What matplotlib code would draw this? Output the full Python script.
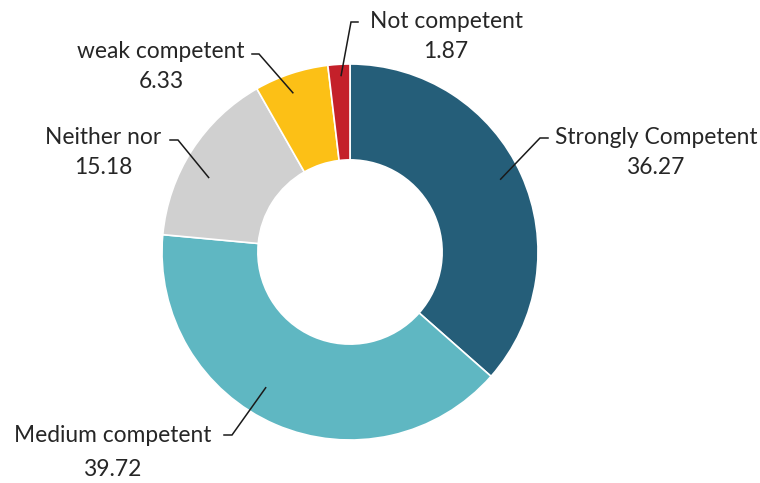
import numpy as np
import matplotlib
matplotlib.use("Agg")
import matplotlib.pyplot as plt

categories = ["Strongly Competent", "Medium competent", "Neither nor", "weak competent", "Not competent"]
values = [36.27, 39.72, 15.18, 6.33, 1.87]
value_labels = ["36.27", "39.72", "15.18", "6.33", "1.87"]
colors = ["#255E79", "#5FB7C2", "#D0D0D0", "#FCC016", "#C4202A"]

W, H = 760, 483
plt.rcParams["font.family"] = ["Lato", "DejaVu Sans"]

fig = plt.figure(figsize=(W / 100, H / 100), dpi=100)
ax = fig.add_axes([0, 0, 1, 1])

cx, cy, R = 350, H - 252, 188
wedges, _ = ax.pie(values, colors=colors, startangle=90, counterclock=False,
                   center=(cx, cy), radius=R,
                   wedgeprops=dict(width=R * 0.51, edgecolor="white", linewidth=1.2))
ax.set_xlim(0, W)
ax.set_ylim(0, H)
ax.set_aspect("equal")
ax.axis("off")

# label layout (pixels from top-left): elbow point, end of horizontal tick, text centre, line gap
layout = [
    dict(elbow=(540, 138), end=(548, 138), text=(656, 137), gap=30, r=0.89, dang=1.5),
    dict(elbow=(232, 435), end=(224, 435), text=(113, 436), gap=34, r=0.85, dang=-8.5),
    dict(elbow=(178, 140), end=(170, 140), text=(103, 138), gap=29, r=0.85, dang=5),
    dict(elbow=(259, 54), end=(252, 54), text=(161, 51), gap=30, r=0.90, dang=1.5),
    dict(elbow=(351, 22), end=(358, 22), text=(446, 21), gap=31, r=0.94, dang=-0.5),
]

for w, name, vl, lay in zip(wedges, categories, value_labels, layout):
    mid = np.deg2rad((w.theta1 + w.theta2) / 2 + lay["dang"])
    ax_x = cx + lay["r"] * R * np.cos(mid)
    ax_y = cy + lay["r"] * R * np.sin(mid)
    ex, ey = lay["elbow"]
    tx, ty = lay["end"]
    ax.plot([ax_x, ex, tx], [ax_y, H - ey, H - ty], color="#1a1a1a", lw=1.1,
            solid_joinstyle="miter", zorder=5)
    px, py = lay["text"]
    ax.text(px, H - py, name, ha="center", va="center", fontsize=16.4, color="#262626")
    ax.text(px, H - py - lay["gap"], vl, ha="center", va="center", fontsize=16.4, color="#262626")

fig.savefig("out.png", dpi=100)
